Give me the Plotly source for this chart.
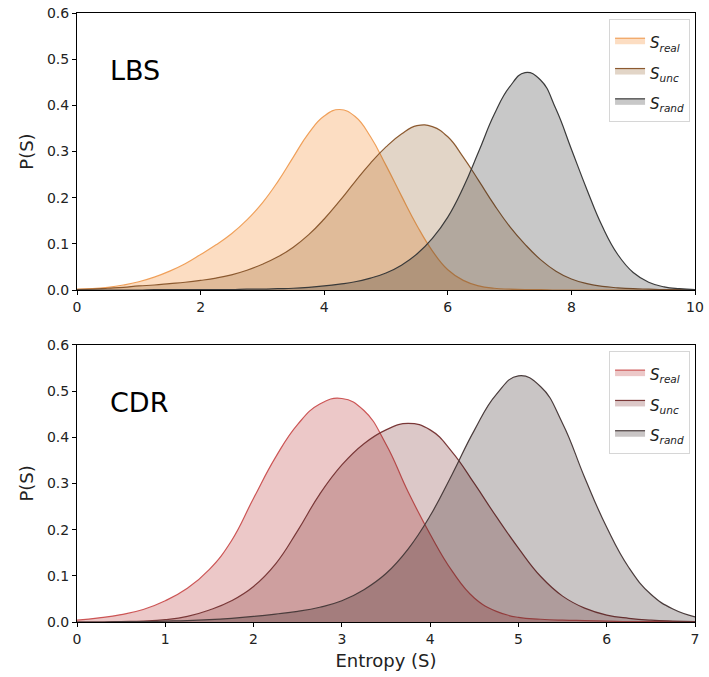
import plotly.graph_objects as go
from plotly.subplots import make_subplots

# ---------------- data ----------------
x_lbs = [0, 0.25, 0.5, 0.75, 1, 1.25, 1.5, 1.75, 2, 2.25, 2.5, 2.75, 3, 3.25, 3.5, 3.75,
         4, 4.25, 4.5, 4.75, 5, 5.25, 5.5, 5.75, 6, 6.25, 6.5, 6.75, 7, 7.25, 7.5, 7.75,
         8, 8.25, 8.5, 8.75, 9, 9.25, 9.5, 9.75, 10]
lbs_real = [0.002, 0.003, 0.006, 0.011, 0.018, 0.028, 0.041, 0.057, 0.077, 0.098, 0.122, 0.152,
            0.189, 0.235, 0.288, 0.34, 0.377, 0.391, 0.376, 0.332, 0.27, 0.204, 0.14, 0.085,
            0.044, 0.021, 0.009, 0.004, 0.002, 0.001, 0.001, 0.0, 0.0, 0.0, 0.0, 0.0, 0.0,
            0.0, 0.0, 0.0, 0.0]
lbs_unc = [0.001, 0.002, 0.004, 0.006, 0.009, 0.011, 0.014, 0.017, 0.021, 0.026, 0.033, 0.043,
           0.056, 0.072, 0.093, 0.12, 0.154, 0.193, 0.235, 0.275, 0.31, 0.338, 0.356, 0.354,
           0.332, 0.288, 0.237, 0.185, 0.138, 0.099, 0.066, 0.041, 0.024, 0.014, 0.008, 0.005,
           0.003, 0.002, 0.001, 0.001, 0.0]
lbs_rand = [0.0, 0.0, 0.0, 0.0, 0.0, 0.001, 0.001, 0.001, 0.001, 0.001, 0.001, 0.002, 0.002,
            0.003, 0.004, 0.006, 0.009, 0.013, 0.018, 0.026, 0.037, 0.054, 0.078, 0.112, 0.158,
            0.222, 0.3, 0.38, 0.44, 0.471, 0.455, 0.392, 0.305, 0.218, 0.138, 0.077, 0.038,
            0.017, 0.007, 0.003, 0.001]

x_cdr = [0, 0.25, 0.5, 0.75, 1, 1.25, 1.5, 1.75, 2, 2.25, 2.5, 2.75, 3, 3.25, 3.5, 3.75,
         4, 4.25, 4.5, 4.75, 5, 5.25, 5.5, 5.75, 6, 6.25, 6.5, 6.75, 7]
cdr_real = [0.004, 0.009, 0.016, 0.027, 0.046, 0.073, 0.114, 0.176, 0.268, 0.357, 0.428, 0.472,
            0.484, 0.458, 0.385, 0.282, 0.19, 0.11, 0.052, 0.023, 0.01, 0.006, 0.004, 0.003,
            0.002, 0.001, 0.001, 0.001, 0.001]
cdr_unc = [0.0, 0.0, 0.001, 0.002, 0.005, 0.012, 0.026, 0.046, 0.077, 0.126, 0.198, 0.277, 0.34,
           0.386, 0.416, 0.43, 0.416, 0.368, 0.3, 0.228, 0.16, 0.099, 0.056, 0.03, 0.015,
           0.008, 0.004, 0.002, 0.001]
cdr_rand = [0.0, 0.0, 0.001, 0.001, 0.002, 0.003, 0.005, 0.008, 0.012, 0.017, 0.023, 0.032,
            0.046, 0.07, 0.105, 0.158, 0.23, 0.32, 0.415, 0.493, 0.533, 0.51, 0.43, 0.313,
            0.205, 0.118, 0.06, 0.028, 0.011]

series_names = ["<i>S<sub>real</sub></i>", "<i>S<sub>unc</sub></i>", "<i>S<sub>rand</sub></i>"]
y_ticks = [0.0, 0.1, 0.2, 0.3, 0.4, 0.5, 0.6]
lbs_xticks = [0, 2, 4, 6, 8, 10]
cdr_xticks = [0, 1, 2, 3, 4, 5, 6, 7]

# ---------------- styling ----------------
lbs_lines = ["#f0a05a", "#8c5a30", "#3a3a3a"]
lbs_fills = ["rgba(243,120,10,0.25)", "rgba(139,87,31,0.25)", "rgba(35,35,35,0.25)"]
cdr_lines = ["#cc5555", "#7a3838", "#4a3c3c"]
cdr_fills = ["rgba(179,35,35,0.25)", "rgba(115,35,35,0.25)", "rgba(40,22,22,0.25)"]

FONT = "DejaVu Sans"


def legend_label(name):
    return '<span style="font-size:15px">' + name + "</span>"


fig = make_subplots(rows=2, cols=1, vertical_spacing=0.09)

for i, ys in enumerate([lbs_real, lbs_unc, lbs_rand]):
    fig.add_trace(go.Scatter(x=x_lbs, y=ys, mode="lines", name=legend_label(series_names[i]),
                             line=dict(color=lbs_lines[i], width=1.2, shape="spline", smoothing=1.3),
                             fill="tozeroy", fillcolor=lbs_fills[i], legend="legend"),
                  row=1, col=1)
for i, ys in enumerate([cdr_real, cdr_unc, cdr_rand]):
    fig.add_trace(go.Scatter(x=x_cdr, y=ys, mode="lines", name=legend_label(series_names[i]),
                             line=dict(color=cdr_lines[i], width=1.2, shape="spline", smoothing=1.3),
                             fill="tozeroy", fillcolor=cdr_fills[i], legend="legend2"),
                  row=2, col=1)

axis_common = dict(showline=True, linecolor="black", linewidth=1, mirror=True,
                   ticks="outside", ticklen=4, tickcolor="black", showgrid=False,
                   zeroline=False, tickfont=dict(family=FONT, size=14, color="#222"))

fig.update_xaxes(range=[0, 10], tickvals=lbs_xticks, row=1, col=1, **axis_common)
fig.update_xaxes(range=[0, 7], tickvals=cdr_xticks, row=2, col=1,
                 title=dict(text="Entropy (S)", font=dict(family=FONT, size=18, color="#222"),
                            standoff=8), **axis_common)
for r in (1, 2):
    fig.update_yaxes(range=[0, 0.6], tickvals=y_ticks, tickformat=".1f", row=r, col=1,
                     title=dict(text="P(S)", font=dict(family=FONT, size=18, color="#222"),
                                standoff=8), **axis_common)

legend_common = dict(bgcolor="white", bordercolor="#d6d6d6", borderwidth=1,
                     font=dict(family=FONT, size=21, color="#222"),
                     xanchor="right", yanchor="top", tracegroupgap=0)
fig.update_layout(
    width=709, height=677,
    margin=dict(l=77, r=5, t=12, b=55),
    plot_bgcolor="white", paper_bgcolor="white",
    showlegend=True,
    legend=dict(x=0.992, y=0.99, **legend_common),
    legend2=dict(x=0.992, y=0.445, **legend_common),
    annotations=[
        dict(text="LBS", x=0.5, y=0.475, xref="x", yref="y", xanchor="left", yanchor="middle",
             showarrow=False, font=dict(family=FONT, size=27, color="black")),
        dict(text="CDR", x=0.35, y=0.475, xref="x2", yref="y2", xanchor="left", yanchor="middle",
             showarrow=False, font=dict(family=FONT, size=27, color="black")),
    ],
)

fig.write_html("out.html")
